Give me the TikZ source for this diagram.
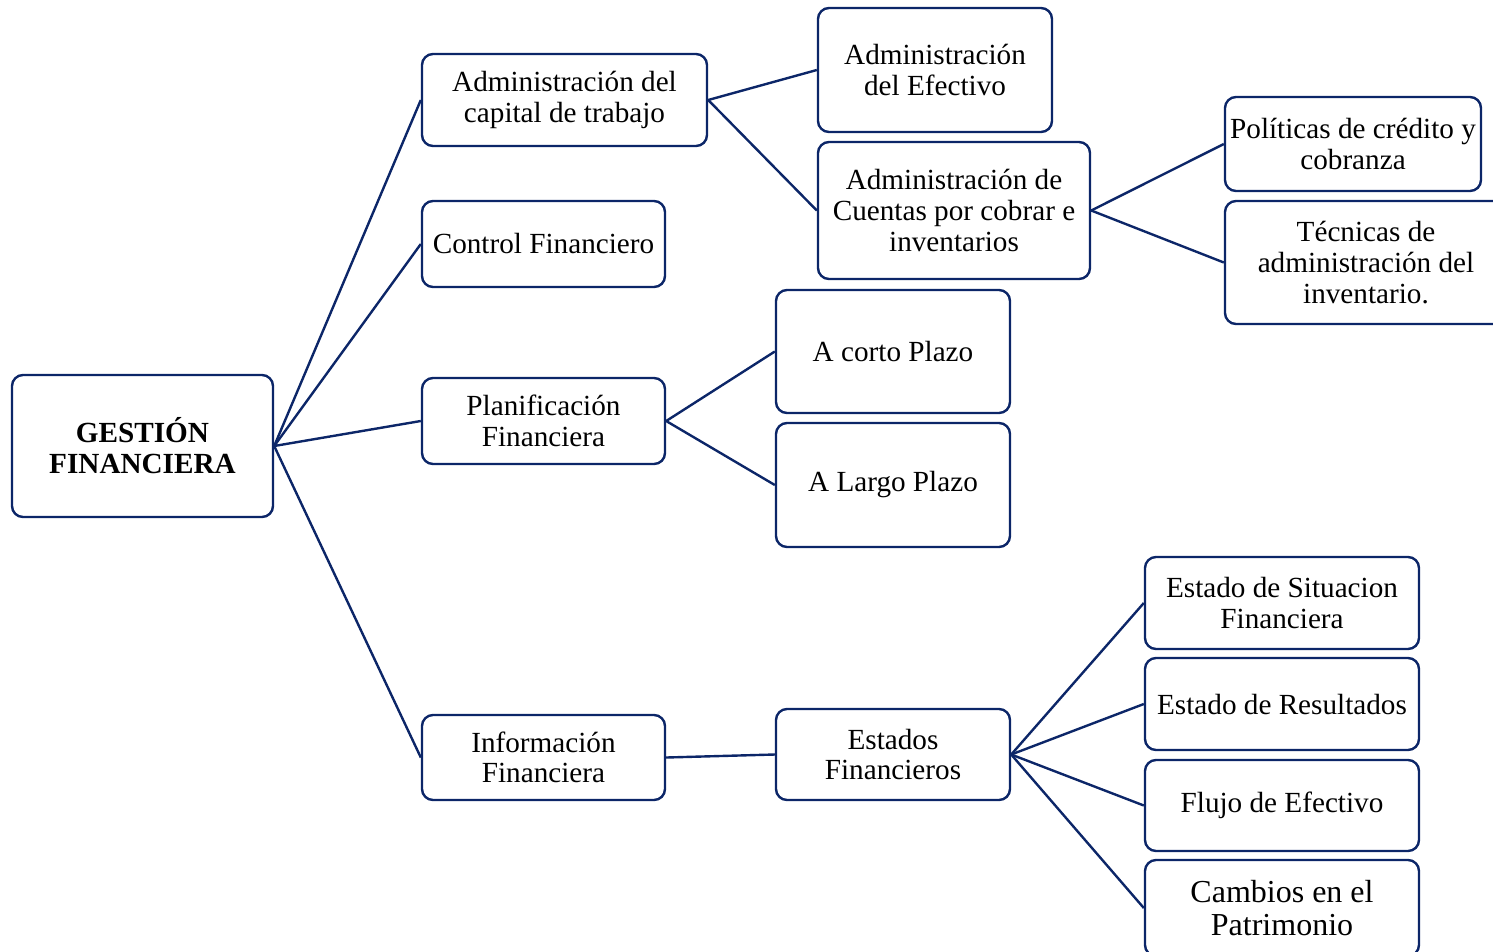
\documentclass[tikz,border=0pt]{standalone}
\usepackage{fontspec}
\setmainfont{Liberation Serif}
\definecolor{navy}{RGB}{12,38,104}
\begin{document}
\begin{tikzpicture}[x=1pt,y=-1pt,
  box/.style={draw=navy,line width=2.4pt,rounded corners=11pt,fill=white,align=center,inner sep=0pt,
    font=\fontsize{29.2}{30.6}\selectfont},
  link/.style={draw=navy,line width=2.4pt}]
\useasboundingbox (0,0) rectangle (1493,951);
\clip (0,0) rectangle (1493,951);
% level 0
\node[box,minimum width=261pt,minimum height=142pt,font=\bfseries\fontsize{29.2}{31}\selectfont] (gf) at (142.5,446) {GESTIÓN\\FINANCIERA};
% level 1
\node[box,minimum width=285pt,minimum height=92pt] (acap) at (564.5,100) {Administración del\\capital de trabajo};
\node[box,minimum width=243pt,minimum height=86pt] (cf) at (543.5,244) {Control Financiero};
\node[box,minimum width=243pt,minimum height=86pt] (pf) at (543.5,421) {Planificación\\Financiera};
\node[box,minimum width=243pt,minimum height=85pt] (inf) at (543.5,757.5) {Información\\Financiera};
% level 2
\node[box,minimum width=234pt,minimum height=124pt] (aef) at (935,70) {Administración\\del Efectivo};
\node[box,minimum width=272pt,minimum height=137pt] (acu) at (954,210.5) {Administración de\\Cuentas por cobrar e\\inventarios};
\node[box,minimum width=234pt,minimum height=123pt] (cp) at (893,351.5) {A corto Plazo};
\node[box,minimum width=234pt,minimum height=124pt] (lp) at (893,485) {A Largo Plazo};
\node[box,minimum width=234pt,minimum height=91pt] (ef) at (893,754.5) {Estados\\Financieros};
% level 3
\node[box,minimum width=256pt,minimum height=94pt] (pol) at (1353,144) {Políticas de crédito y\\cobranza};
\node[box,minimum width=282pt,minimum height=123pt] (tec) at (1366,262.5) {Técnicas de\\administración del\\inventario.};
\node[box,minimum width=274pt,minimum height=92pt] (es) at (1282,603) {Estado de Situacion\\Financiera};
\node[box,minimum width=274pt,minimum height=92pt] (er) at (1282,704) {Estado de Resultados};
\node[box,minimum width=274pt,minimum height=91pt] (fe) at (1282,805.5) {Flujo de Efectivo};
\node[box,minimum width=274pt,minimum height=96pt,font=\fontsize{32}{33}\selectfont] (cpat) at (1282,908) {Cambios en el\\Patrimonio};
% connectors
\draw[link] (gf.east) -- (acap.west);
\draw[link] (gf.east) -- (cf.west);
\draw[link] (gf.east) -- (pf.west);
\draw[link] (gf.east) -- (inf.west);
\draw[link] (acap.east) -- (aef.west);
\draw[link] (acap.east) -- (acu.west);
\draw[link] (acu.east) -- (pol.west);
\draw[link] (acu.east) -- (tec.west);
\draw[link] (pf.east) -- (cp.west);
\draw[link] (pf.east) -- (lp.west);
\draw[link] (inf.east) -- (ef.west);
\draw[link] (ef.east) -- (es.west);
\draw[link] (ef.east) -- (er.west);
\draw[link] (ef.east) -- (fe.west);
\draw[link] (ef.east) -- (cpat.west);
\end{tikzpicture}
\end{document}
